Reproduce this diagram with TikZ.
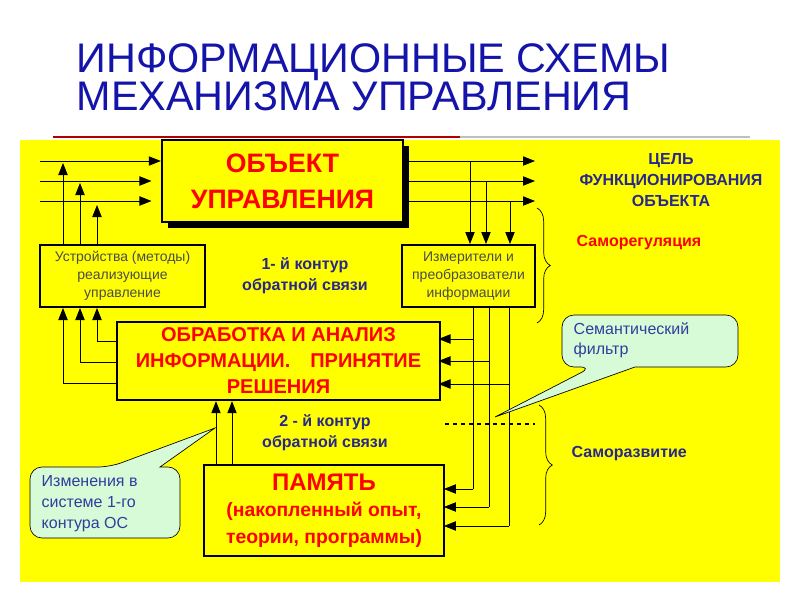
\documentclass[tikz,border=0pt]{standalone}
\usepackage{fontspec}
\setmainfont{Liberation Sans}
\usetikzlibrary{arrows.meta,decorations.pathreplacing}
\definecolor{ylw}{RGB}{255,255,0}
\definecolor{dblue}{RGB}{40,40,140}
\definecolor{tblue}{RGB}{20,20,170}
\definecolor{rred}{RGB}{255,0,0}
\definecolor{cgreen}{RGB}{215,250,215}
\definecolor{cblue}{RGB}{50,60,160}
\tikzset{
 arr/.style={-{Triangle[length=9pt,width=7pt]},line width=0.6pt},
 bigbox/.style={draw,line width=1.8pt,fill=ylw,text=rred,font=\bfseries,align=center,inner sep=0},
 smallbox/.style={draw,line width=1.5pt,fill=ylw,text=black!70,align=center,font=\fontsize{10.5}{13.5}\selectfont,inner sep=0},
 lbl/.style={font=\bfseries\fontsize{12}{15.5}\selectfont,align=center},
 callout/.style={draw,line width=0.5pt,fill=cgreen,rounded corners=9pt}
}
\begin{document}
\begin{tikzpicture}[x=0.75pt,y=-0.75pt]
\useasboundingbox (0,0) rectangle (800,600);
\fill[white] (0,0) rectangle (800,600);
\node[anchor=west,text=tblue,font=\fontsize{31}{26}\selectfont,align=left] (title) at (72,77) {ИНФОРМАЦИОННЫЕ СХЕМЫ\\МЕХАНИЗМА УПРАВЛЕНИЯ};
\draw[black!25,line width=1pt] (460,137) -- (750,137);
\draw[rred!70!black,line width=2pt] (53,137) -- (460,137);
\fill[ylw] (20,140) rectangle (780,582);
% object
\fill[black] (168,146) rectangle (409,228);
\node[bigbox,minimum width=241*0.75pt,minimum height=82*0.75pt,font=\bfseries\fontsize{20}{27}\selectfont] (obj) at (282.5,181) {ОБЪЕКТ\\УПРАВЛЕНИЯ};
% devices
\node[smallbox,minimum width=165*0.75pt,minimum height=62*0.75pt] (dev) at (122.5,276) {Устройства (методы)\\реализующие\\управление};
\node[smallbox,minimum width=133*0.75pt,minimum height=62*0.75pt] (mes) at (468.5,276) {Измерители и\\преобразователи\\информации};
\node[bigbox,minimum width=323*0.75pt,minimum height=78*0.75pt,font=\bfseries\fontsize{15}{19.5}\selectfont] (proc) at (278.5,361) {ОБРАБОТКА И АНАЛИЗ\\ИНФОРМАЦИИ.\quad ПРИНЯТИЕ\\РЕШЕНИЯ};
\node[bigbox,minimum width=240*0.75pt,minimum height=91*0.75pt,font=\bfseries\fontsize{14.5}{20}\selectfont] (mem) at (324,510.5) {{\fontsize{18}{20}\selectfont ПАМЯТЬ}\\(накопленный опыт,\\теории, программы)};
% left inputs
\coordinate (i1) at (40,161);\coordinate (i2) at (40,181);\coordinate (i3) at (40,201);
\draw[arr] (i1) -- (obj.west|-i1);
\draw[arr] (i2) -- ([xshift=-7pt]obj.west|-i2);
\draw[arr] (i3) -- ([xshift=-7pt]obj.west|-i3);
\foreach \x/\y in {63/163,80/183,97/205}{\draw[arr] (dev.north-|{\x,0}) -- (\x,\y);}
% proc to dev
\foreach \x/\y in {97/341,80/362,63/383}{\draw[arr] (proc.west|-{0,\y}) -| (dev.south-|{\x,0});}
% mem to proc
\foreach \x in {216,232}{\draw[arr] (mem.north-|{\x,0}) -- (proc.south-|{\x,0});}
% outputs
\foreach \y/\x in {161/470,181/486,201/510}{
 \coordinate (o) at (535,\y);
 \draw[arr] (obj.east|-o) -- (o);
 \draw[arr] (\x,\y) -- (mes.north-|{\x,0});}
% mes to proc & mem
\foreach \x/\a/\b in {473/339/489,489/361/507,509/384/526}{
 \draw[line width=0.6pt] (mes.south-|{\x,0}) -- (\x,\b);
 \draw[arr] (\x,\a) -- ([xshift=-2pt]proc.east|-{0,\a});
 \draw[arr] (\x,\b) -- ([xshift=-1pt]mem.east|-{0,\b});}
\draw[dashed,line width=0.8pt] (445,424) -- (535,424);
% labels
\node[lbl,text=dblue] (k1) at (305,276) {1- й контур\\обратной связи};
\node[lbl,text=dblue] (k2) at (325,433) {2 - й контур\\обратной связи};
\node[lbl,text=dblue] (goal) at (671,180) {ЦЕЛЬ\\ФУНКЦИОНИРОВАНИЯ\\ОБЪЕКТА};
\node[lbl,text=rred,anchor=west] (sr) at (572,243) {Саморегуляция};
\node[lbl,text=dblue,anchor=west] (sd) at (567,454) {Саморазвитие};
\draw[decorate,decoration={brace,amplitude=10pt},line width=0.5pt] (537,208) -- (537,323);
\draw[decorate,decoration={brace,amplitude=10pt},line width=0.5pt] (539,405) -- (539,525);
% callouts
\draw[callout] (592,367) [sharp corners]-- (495,417) -- (635,367) [rounded corners=9pt]-- (738,367) -- (738,315) -- (562,315) -- (562,367) -- cycle;
\node[anchor=north west,text=cblue,font=\fontsize{12}{15}\selectfont,align=left] (sf) at (569,318) {Семантический\\фильтр};
\draw[callout] (110,467) [sharp corners]-- (215,428) -- (160,467) [rounded corners=9pt]-- (180,467) -- (180,538) -- (30,538) -- (30,467) -- cycle;
\node[anchor=north west,text=cblue,font=\fontsize{12}{15.5}\selectfont,align=left] (ch) at (37,471) {Изменения в\\системе 1-го\\контура ОС};
\end{tikzpicture}
\end{document}
